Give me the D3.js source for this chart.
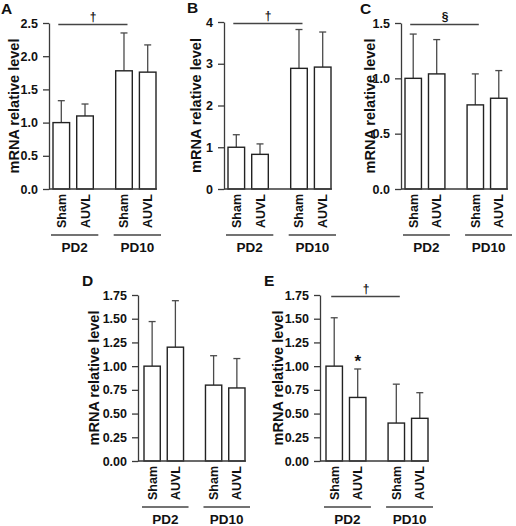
<!DOCTYPE html>
<html>
<head>
<meta charset="utf-8">
<script src="https://cdn.jsdelivr.net/npm/d3@7"></script>
<style>
  body { margin: 0; background: #fff; }
  svg { display: block; font-family: "Liberation Sans", Arial, sans-serif; font-weight: bold; }
  .sig { opacity: 0.99; }
</style>
</head>
<body>
<svg id="chart" width="516" height="526"></svg>
<script>
// ---------- data ----------
const groups = ["PD2", "PD10"];
const conditions = ["Sham", "AUVL"];

const meanA = [1.00, 1.10, 1.78, 1.76];
const sdA   = [0.33, 0.18, 0.57, 0.41];
const meanB = [1.00, 0.83, 2.89, 2.92];
const sdB   = [0.30, 0.25, 0.93, 0.84];
const meanC = [1.00, 1.04, 0.76, 0.82];
const sdC   = [0.40, 0.31, 0.28, 0.25];
const meanD = [1.00, 1.20, 0.80, 0.77];
const sdD   = [0.47, 0.49, 0.31, 0.31];
const meanE = [1.00, 0.67, 0.40, 0.45];
const sdE   = [0.51, 0.30, 0.41, 0.27];

const ticksA = [0, 0.5, 1.0, 1.5, 2.0, 2.5];
const ticksB = [0, 1, 2, 3, 4];
const ticksC = [0, 0.5, 1.0, 1.5];
const ticksD = [0, 0.25, 0.5, 0.75, 1.0, 1.25, 1.5, 1.75];
const ticksE = [0, 0.25, 0.5, 0.75, 1.0, 1.25, 1.5, 1.75];

const yTitle = "mRNA relative level";

// ---------- layout ----------
const panels = [
  { label: "A", mean: meanA, sd: sdA, ticks: ticksA, fmt: ".1f", ax: 49,  top: 23,  bottom: 189, off: 4, span: 103, lx: 1,   titleX: 14,  sig: "†", star: null },
  { label: "B", mean: meanB, sd: sdB, ticks: ticksB, fmt: "d",   ax: 224, top: 22,  bottom: 189, off: 4, span: 103, lx: 187, titleX: 196, sig: "†", star: null },
  { label: "C", mean: meanC, sd: sdC, ticks: ticksC, fmt: ".1f", ax: 401, top: 23,  bottom: 189, off: 4, span: 102, lx: 360, titleX: 370, sig: "§", star: null },
  { label: "D", mean: meanD, sd: sdD, ticks: ticksD, fmt: ".2f", ax: 138, top: 295, bottom: 461, off: 6, span: 101, lx: 82,  titleX: 94,  sig: null, star: null },
  { label: "E", mean: meanE, sd: sdE, ticks: ticksE, fmt: ".2f", ax: 320, top: 295, bottom: 461, off: 6, span: 102, lx: 264, titleX: 278, sig: "†", star: 1 }
];

const svg = d3.select("#chart");
const axisColor = "#3a3a3a";

panels.forEach(p => {
  const g = svg.append("g");
  const yMax = p.ticks[p.ticks.length - 1];
  const y = d3.scaleLinear().domain([0, yMax]).range([p.bottom, p.top]);

  const x0 = d3.scaleBand().domain(groups)
    .range([p.ax + p.off, p.ax + p.off + p.span]).paddingInner(0.357).paddingOuter(0);
  const x1 = d3.scaleBand().domain(conditions)
    .range([0, x0.bandwidth()]).paddingInner(0.3).paddingOuter(0);

  const data = [];
  groups.forEach((gr, gi) => conditions.forEach((c, ci) => {
    const i = gi * 2 + ci;
    data.push({ group: gr, cond: c, mean: p.mean[i], sd: p.sd[i] });
  }));
  const bx = d => x0(d.group) + x1(d.cond);
  const bw = x1.bandwidth();

  // error bars (upper only)
  g.selectAll(".err").data(data).enter().append("line")
    .attr("x1", d => bx(d) + bw / 2).attr("x2", d => bx(d) + bw / 2)
    .attr("y1", d => y(d.mean)).attr("y2", d => y(d.mean + d.sd))
    .attr("stroke", "#4a4a4a").attr("stroke-width", 1.3);
  g.selectAll(".cap").data(data).enter().append("line")
    .attr("x1", d => bx(d) + bw / 2 - 3.5).attr("x2", d => bx(d) + bw / 2 + 3.5)
    .attr("y1", d => y(d.mean + d.sd)).attr("y2", d => y(d.mean + d.sd))
    .attr("stroke", "#4a4a4a").attr("stroke-width", 1.3);

  // bars
  g.selectAll(".bar").data(data).enter().append("rect")
    .attr("x", d => bx(d)).attr("y", d => y(d.mean))
    .attr("width", bw).attr("height", d => y(0) - y(d.mean))
    .attr("fill", "#fff").attr("stroke", "#222").attr("stroke-width", 1.4);

  // y axis
  const yAxis = d3.axisLeft(y).tickValues(p.ticks).tickFormat(d3.format(p.fmt))
    .tickSize(6).tickPadding(5).tickSizeOuter(0);
  const ya = g.append("g").attr("transform", `translate(${p.ax},0)`).call(yAxis);
  ya.select(".domain").attr("stroke", axisColor).attr("stroke-width", 1.3);
  ya.selectAll(".tick line").attr("stroke", axisColor).attr("stroke-width", 1.3);
  ya.selectAll(".tick text").attr("font-size", 12.5).attr("font-weight", "bold")
    .attr("font-family", "Liberation Sans, Arial, sans-serif").attr("fill", "#111");

  // baseline
  const lastEnd = x0("PD10") + x1("AUVL") + bw;
  g.append("line").attr("x1", p.ax).attr("x2", lastEnd + 1)
    .attr("y1", y(0)).attr("y2", y(0))
    .attr("stroke", axisColor).attr("stroke-width", 1.3);

  // category labels (rotated)
  g.selectAll(".cat").data(data).enter().append("text")
    .attr("transform", d => `translate(${bx(d) + bw / 2 + 4.5},${p.bottom + 5}) rotate(-90)`)
    .attr("text-anchor", "end").attr("font-size", 12.5).attr("fill", "#111")
    .text(d => d.cond);

  // group lines and labels
  groups.forEach(gr => {
    const gx0 = x0(gr) - 2, gx1 = x0(gr) + x0.bandwidth() + 5;
    g.append("line").attr("x1", gx0).attr("x2", gx1)
      .attr("y1", p.bottom + 46).attr("y2", p.bottom + 46)
      .attr("stroke", "#444").attr("stroke-width", 1.3);
    g.append("text").attr("x", (gx0 + gx1) / 2).attr("y", p.bottom + 63)
      .attr("text-anchor", "middle").attr("font-size", 13.5).attr("fill", "#111")
      .text(gr);
  });

  // y-axis title
  g.append("text")
    .attr("transform", `translate(${p.titleX + 5},${(p.top + p.bottom) / 2}) rotate(-90)`)
    .attr("text-anchor", "middle").attr("font-size", 14.5).attr("fill", "#111")
    .text(yTitle);

  // panel letter
  g.append("text").attr("x", p.lx).attr("y", p.top - 9)
    .attr("font-size", 15.5).attr("fill", "#111").text(p.label);

  // significance bracket
  if (p.sig) {
    const sx0 = x0("PD2") + x1("Sham") + bw / 2 - 3;
    const sx1 = x0("PD10") + x1("Sham") + bw / 2 + 3.5;
    g.append("line").attr("x1", sx0).attr("x2", sx1)
      .attr("y1", p.top + 1.5).attr("y2", p.top + 1.5)
      .attr("stroke", "#444").attr("stroke-width", 1.3);
    g.append("text").attr("class", "sig")
      .attr("transform", `translate(${Math.round((sx0 + sx1) / 2)},${p.top - 2}) rotate(0.01)`)
      .attr("text-anchor", "middle").attr("font-size", 12).attr("fill", "#111")
      .text(p.sig);
  }
  if (p.star !== null) {
    const d = data[p.star];
    g.append("text").attr("x", bx(d) + bw / 2).attr("y", y(d.mean + d.sd) - 2)
      .attr("text-anchor", "middle").attr("font-size", 17).attr("fill", "#111")
      .text("*");
  }
});
</script>
</body>
</html>
